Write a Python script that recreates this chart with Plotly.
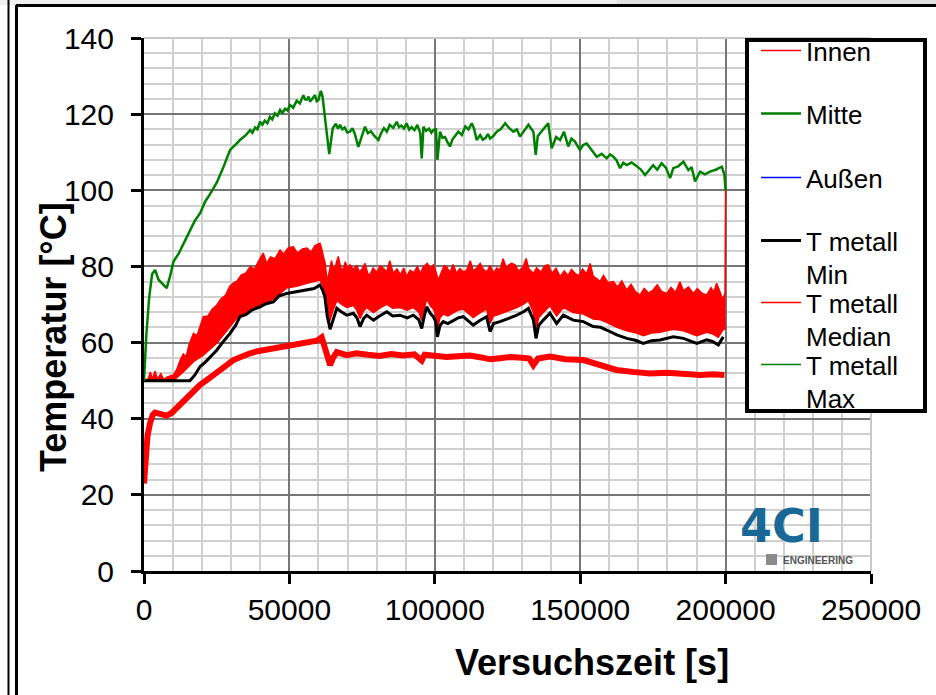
import plotly.graph_objects as go

# ---- measured series (time in s, temperature in °C) ----
innen_t = [0, 500, 1200, 2100, 3000, 3800, 5500, 7800, 9500, 11500, 13500, 16500, 19300, 22000,
           25000, 28000, 30700, 33500, 36500, 39500, 42200, 45000, 47900, 50800, 53600, 56500,
           59400, 61100, 62200, 63400, 64000, 65000, 66300, 69700, 73000, 77000, 81000, 85000,
           89000, 93000, 95500, 96500, 100000, 104000, 108000, 112000, 116000, 119000, 122400,
           126000, 130000, 132500, 133900, 135500, 139600, 145000, 151100, 155000, 158500,
           162500, 168000, 174000, 180000, 186000, 191200, 195500, 199600]
innen_v = [23, 30, 35.5, 38.9, 41, 41.6, 41.2, 40.8, 41.5, 43, 44.9, 47, 48.9, 50.4,
           51.9, 53.8, 55.4, 56.4, 57.2, 57.8, 58.2, 58.6, 58.9, 59.4, 59.8, 60.1,
           60.5, 61.4, 58.9, 55.9, 54.1, 56, 57.5, 56.7, 57.2, 56.8, 56.5, 57,
           56.6, 56.9, 55.3, 56.8, 56.5, 56.2, 56.4, 56.6, 56.1, 55.6, 55.9,
           56.2, 56, 55.8, 54.1, 55.8, 56.3, 55.6, 55.4, 54.6, 53.6,
           52.8, 52.3, 51.9, 52.1, 51.6, 51.5, 51.7, 51.5]

mitte_t = [0, 800, 1800, 2800, 3800, 5000, 6300, 7800, 9000, 10100, 12000, 14000, 15800, 17500,
           19300, 21000, 22700, 25000, 27000, 29600, 31500, 33000, 35000, 36500, 37300, 38200,
           39000, 39900, 40700, 41500, 42400, 43300, 44100, 45000, 45900, 46800, 47600, 48500,
           49300, 50200, 51300, 52500, 53600, 54800, 55400, 56000, 56600, 57100, 58000, 58800,
           59400, 60000, 60800, 61400, 62200, 63000, 63700, 64900, 66000, 66700, 67400, 68200,
           69000, 69900, 70800, 71700, 72500, 73700, 75000, 76000, 77000, 78000, 79300, 80600,
           81500, 82500, 83500, 84500, 85700, 86900, 87700, 88500, 89400, 90300, 91200, 92000,
           93000, 94000, 95000, 95500, 96100, 97000, 98000, 98800, 99500, 100400, 100900,
           101800, 102600, 103500, 104400, 105200, 106100, 107000, 108100, 109300, 110500,
           111600, 112700, 113500, 114400, 115600, 116500, 117500, 118300, 119000, 120200,
           121300, 122700, 124200, 125600, 127000, 128200, 129300, 130700, 132200, 133100,
           133900, 134700, 135400, 136200, 137600, 139000, 140200, 141700, 143100, 144400,
           145900, 147000, 148200, 149000, 149900, 151000, 152200, 154000, 155700, 157400,
           159100, 160300, 161400, 162500, 163700, 164800, 166000, 167700, 169400, 170800,
           172300, 173700, 175100, 176500, 178000, 179500, 180900, 182000, 183700, 185500,
           187200, 188300, 189500, 191200, 192900, 194600, 196600, 198700, 199600, 200000]
mitte_v = [50, 62, 72, 78, 79.1, 76.5, 75.5, 74.3, 77.5, 81.2, 83.5, 86.5, 89.6, 92,
           94, 97, 99, 102, 105.5, 110.6, 112, 113.2, 114.5, 115.8, 115.1, 116.5,
           116.0, 118, 117.2, 118.3, 117.6, 119.3, 118.6, 120.2, 119.6, 121.1, 120.3, 121.4,
           121.0, 122.4, 121.7, 123.5, 122.8, 125, 123.9, 123.8, 124.6, 123.3, 124.2, 125,
           123.4, 123.7, 126.1, 124.6, 119.3, 113, 109.5, 116.3, 117.5, 116.2, 117.2, 116.0,
           116.5, 115.2, 115.4, 116.3, 114.8, 111.4, 114.5, 116.7, 115.0, 115.5, 114.2, 113.2,
           115.0, 116.3, 115.4, 117.2, 116.4, 118, 116.6, 117, 116.2, 117.6, 115.9, 116.6,
           115.8, 117.2, 115, 108.4, 116.7, 115.6, 116.2, 115.1, 115.8, 116, 108,
           115.4, 113.8, 114, 112.6, 111.5, 113.4, 114.2, 115.4, 114.5, 116.8,
           116.0, 117.6, 116.2, 113.2, 114.5, 113.3, 113.8, 114.8, 113.6, 114.3,
           115.4, 116.1, 117.6, 116.3, 115.4, 116.0, 114.1, 115.6, 117.2, 116.2,
           115.4, 109.3, 114.2, 115, 116.3, 117.6, 111, 114.0, 113.2, 115.4,
           111.5, 113.6, 112.8, 111.7, 110.6, 111.9, 112.3, 110.5, 108.8, 109.6,
           108.4, 109.4, 108.8, 107.9, 105.8, 107.2, 106.6, 107.3, 106.2, 105.5,
           104, 105.3, 106.6, 105.4, 107.1, 105.9, 103.2, 105.8, 106.3, 107.5,
           105.3, 106.1, 102.3, 104.9, 104.2, 104.9, 105.4, 106.2, 104, 100]

tmin_t = [0, 15800, 17500, 19300, 21000, 23000, 25000, 27500, 29600, 31500, 33000, 35000, 37000,
          39900, 42000, 44500, 46500, 49000, 51500, 54000, 56000, 58500, 60500, 61400, 62200,
          63000, 64000, 65000, 66300, 68000, 69700, 72000, 73200, 74300, 75500, 76600, 78900,
          81000, 83500, 85500, 88000, 90500, 92600, 94500, 95500, 96400, 97200, 98500, 99500,
          100300, 100900, 101800, 102900, 104500, 106400, 108000, 109800, 111500, 113200,
          115500, 117800, 119000, 120200, 122400, 125000, 128200, 130500, 132200, 133300,
          133900, 134800, 135700, 137300, 139600, 141900, 144200, 147600, 151100, 154500,
          157000, 159100, 162600, 166000, 169000, 171700, 174500, 177500, 180000, 182000,
          185500, 188000, 190100, 193500, 195500, 197500, 199200]
tmin_v = [50, 50, 51.5, 53.7, 54.8, 56.5, 58, 60.5, 62.4, 64.5, 66.8, 67.3, 68.5,
          69.4, 70.2, 70.7, 72.3, 72.9, 73.2, 73.6, 73.8, 74.2, 75.1, 73.8, 72,
          67, 63.5, 66, 69, 68, 67.2, 67.7, 66.5, 64.2, 66.3, 67.2, 65.9,
          67, 68.1, 67, 67.2, 66.5, 67.2, 66, 63.7, 67, 69.4, 67.6, 66.8,
          65.5, 61.5, 64.5, 65.5, 65, 65.9, 66.5, 66.8, 65.8, 64.6,
          65.8, 66.8, 62.9, 65, 65.5, 66.2, 67.2, 68.1, 69, 67,
          65.9, 61.1, 64.5, 65.9, 67.7, 65, 67.2, 65.9, 65.5, 64.2,
          64, 63.3, 62, 61.1, 60.6, 59.8, 60.5, 60.7, 61.2, 61.5,
          61.1, 60.5, 59.8, 60.7, 60.3, 59.4, 61.5]

# median: lower and upper envelope of the scatter band
med_lo_t = [0, 10100, 13500, 17000, 20400, 25000, 29600, 32500, 35300, 38000, 41000, 44500,
            49000, 52500, 56000, 60500, 61500, 62300, 63000, 63800, 65000, 66300, 68000, 69700,
            72000, 73200, 74300, 75500, 76600, 78900, 81000, 83500, 85500, 88000, 90500, 92600,
            94500, 95500, 96400, 97200, 98500, 99500, 100300, 100900, 101800, 102900, 104500,
            106400, 108000, 109800, 111500, 113200, 115500, 117800, 119000, 120200, 122400,
            125000, 128200, 130500, 132200, 133300, 133900, 134800, 135700, 137300, 139600,
            141900, 144200, 147600, 151100, 154500, 157000, 159100, 162600, 166000, 169000,
            171700, 174500, 177500, 180000, 182000, 185500, 188000, 190100, 193500, 195500,
            197500, 199200, 200000]
med_lo_v = [50, 50, 52.3, 55, 56.7, 59.8, 64.2, 67, 67.7, 69, 69.9, 71.5,
            74.3, 74.8, 75.6, 76.4, 75, 73, 69, 65.5, 68.5, 71, 70, 69.2,
            69.7, 68.5, 66.3, 68.3, 69.2, 67.9, 69, 70.1, 69, 69.2, 68.5, 69.2,
            68, 65.8, 69, 71.4, 69.6, 68.8, 67.5, 63.6, 66.5, 67.5, 67,
            67.9, 68.5, 68.8, 67.8, 66.6, 67.8, 68.8, 65, 67, 67.5,
            68.2, 69.2, 70.1, 71, 69, 67.9, 63.2, 66.5, 67.9, 69.7,
            67, 69.2, 67.9, 67.5, 66.2, 66, 65.3, 64, 63.1, 62.6,
            61.8, 62.5, 62.7, 63.2, 63.5, 63.1, 62.5, 61.8, 62.7, 62.3,
            61.4, 63.5, 63.5]
med_hi_t = [0, 1500, 2200, 2800, 3800, 4600, 5800, 6800, 8000, 10100, 11200, 12500, 13500, 14500,
            15500, 17000, 18200, 19300, 20400, 22000, 23500, 25000, 26500, 28000, 29500, 30700,
            32000, 33500, 35000, 36500, 38000, 39500, 41000, 42200, 43500, 45000, 46800, 48000,
            49500, 51300, 52800, 54500, 56000, 57500, 58800, 60500, 61000, 61700, 62300, 63000,
            63800, 64500, 65100, 66000, 66800, 67600, 68500, 69200, 70000, 70800, 72000, 73200,
            74000, 74800, 76000, 77000, 77700, 78800, 80000, 81200, 82300, 83500, 84500, 85700,
            87000, 88200, 89300, 90300, 91500, 92800, 94000, 95000, 96100, 97400, 98500, 99500,
            100300, 101200, 102300, 103200, 104100, 105200, 106300, 107500, 108600, 110000,
            111000, 112200, 113200, 114400, 115600, 116700, 117900, 119000, 120200, 121300,
            122400, 123500, 124600, 125500, 126400, 127600, 128800, 130400, 131400, 132300,
            133900, 135000, 136500, 137800, 139000, 140300, 141700, 143100, 144500, 145800,
            147000, 148200, 149500, 150800, 152200, 153400, 154500, 155700, 156800, 158000,
            159500, 161400, 162800, 164300, 166000, 167500, 169000, 170600, 172000, 173500,
            175100, 176500, 178000, 179800, 181200, 182800, 184300, 185500, 187200, 188900,
            190300, 191800, 193500, 195000, 196000, 196900, 198000, 199000, 199800, 200000]
med_hi_v = [50, 50.5, 52.3, 50.3, 52.5, 50.4, 51.8, 50.3, 51, 51.5, 52.8, 55.5, 57, 56.2,
            59.5, 62.4, 61.8, 64.2, 66.8, 67, 68.8, 69.8, 71.5, 72.4, 74.8, 75.6,
            76.2, 77.8, 78.2, 79.9, 79.3, 81.5, 83.5, 80.8, 82.5, 82, 84.3, 83.2,
            84.8, 85.2, 83.5, 84.6, 84.8, 83.8, 85.5, 86.1, 85, 82.6, 80.8, 76,
            79.5, 81.5, 79, 80.5, 82.6, 79.8, 79, 81.2, 79.4, 80.4, 79.2, 80.3,
            78.6, 79.1, 80.8, 78, 77.8, 79.6, 78.4, 80.2, 79.5, 78.6, 81.5, 78.2,
            79.3, 77.8, 79.6, 77.3, 79, 78.4, 80, 78.2, 79.9, 80.8, 79.5, 80.4,
            78.8, 76.4, 78.5, 80.2, 79.9, 78.4, 80.5, 78.2, 79.4, 78.5,
            79.1, 81.5, 78.8, 79.6, 80.8, 79.2, 78.6, 80.2, 78.3, 79.6,
            79.1, 82, 79.5, 80.4, 80.8, 80.4, 78.8, 79.9, 82.1, 79.4,
            78.2, 79.6, 78.5, 80.2, 80.4, 78.2, 79.5, 77.3, 78.8, 77.6,
            79.2, 78.2, 77.5, 79.3, 78, 80.8, 77.4, 76.8, 76, 77.6,
            75.8, 76, 74.6, 76.2, 73.8, 75.3, 73.4, 72.5, 74.2, 73,
            73.8, 75.2, 73.4, 72.9, 74.5, 73.2, 76, 73.6, 74.6, 72.9,
            74.2, 73, 72.5, 74.4, 73.2, 75.6, 73.5, 71.2, 73, 100]

x_ticks = [0, 50000, 100000, 150000, 200000, 250000]
y_ticks = [0, 20, 40, 60, 80, 100, 120, 140]

RED, GREEN, BLUE, BLACK = "#ff0000", "#008000", "#0000ff", "#000000"
FONT = "Liberation Sans, Arial, sans-serif"

# plot area in pixels
L, R, T, B = 144, 871, 38, 571
W, H = 936, 695


def px(x):
    return (x - L) / (R - L)


def py(y):
    return (B - y) / (B - T)


fig = go.Figure()

# Innen: thick curve, thin key line in the legend
fig.add_trace(go.Scatter(x=innen_t, y=innen_v, mode="lines", name="Innen",
                         line=dict(color=RED, width=6), legendgroup="innen",
                         showlegend=False))
fig.add_trace(go.Scatter(x=[None], y=[None], mode="lines", name="Innen",
                         line=dict(color=RED, width=1.5), legendgroup="innen",
                         legend="legend"))
fig.add_trace(go.Scatter(x=med_lo_t, y=med_lo_v, mode="lines", name="T metall<br>Median",
                         line=dict(color=RED, width=1.5), legend="legend5",
                         legendgroup="median"))
fig.add_trace(go.Scatter(x=med_hi_t, y=med_hi_v, mode="lines", name="T metall Median",
                         line=dict(color=RED, width=1.5), fill="tonexty", fillcolor=RED,
                         showlegend=False, legendgroup="median"))
fig.add_trace(go.Scatter(x=tmin_t, y=tmin_v, mode="lines", name="T metall<br>Min",
                         line=dict(color=BLACK, width=3), legend="legend4"))
fig.add_trace(go.Scatter(x=[None], y=[None], mode="lines", name="Außen",
                         line=dict(color=BLUE, width=1.5), legend="legend3"))
fig.add_trace(go.Scatter(x=[None], y=[None], mode="lines", name="T metall<br>Max",
                         line=dict(color=GREEN, width=1.5), legend="legend6"))
fig.add_trace(go.Scatter(x=mitte_t, y=mitte_v, mode="lines", name="Mitte",
                         line=dict(color=GREEN, width=2.5), legend="legend2"))

# one legend per entry so every row sits at its own height
leg_rows = [53, 116, 180, 243, 305, 367]
leg_common = dict(font=dict(family=FONT, size=26, color="black"), bgcolor="rgba(0,0,0,0)",
                  borderwidth=0, xanchor="left", yanchor="top", valign="top",
                  itemwidth=40, tracegroupgap=0, visible=True)
legends = {}
for i, yrow in enumerate(leg_rows):
    key = "legend" if i == 0 else f"legend{i + 1}"
    legends[key] = dict(x=px(756), y=py(yrow - 26), **leg_common)

axis_common = dict(showline=True, linecolor="black", linewidth=3, mirror=False,
                   ticks="outside", ticklen=10, tickwidth=3, tickcolor="black",
                   tickfont=dict(family=FONT, size=30, color="black"),
                   showgrid=True, gridcolor="#767676", gridwidth=1.5, zeroline=False)

shapes = [
    # page frame
    dict(type="rect", xref="paper", yref="paper", x0=px(0), x1=px(617), y0=py(0), y1=py(5),
         fillcolor="#f0f0f0", line=dict(width=0), layer="below"),
    dict(type="rect", xref="paper", yref="paper", x0=px(617), x1=px(W), y0=py(0), y1=py(5),
         fillcolor="#e0e0e0", line=dict(width=0), layer="below"),
    dict(type="line", xref="paper", yref="paper", x0=px(16), x1=px(W), y0=py(5.5), y1=py(5.5),
         line=dict(color="black", width=3)),
    dict(type="line", xref="paper", yref="paper", x0=px(8.5), x1=px(8.5), y0=py(0), y1=py(H),
         line=dict(color="black", width=2)),
    dict(type="line", xref="paper", yref="paper", x0=px(16.5), x1=px(16.5), y0=py(5), y1=py(H),
         line=dict(color="black", width=3)),
    # light plot-area border on top/right
    dict(type="line", xref="paper", yref="paper", x0=0, x1=1, y0=1, y1=1,
         line=dict(color="#c8c8c8", width=2)),
    dict(type="line", xref="paper", yref="paper", x0=1, x1=1, y0=0, y1=1,
         line=dict(color="#c8c8c8", width=2)),
    # legend frame
    dict(type="rect", xref="paper", yref="paper", x0=px(747), x1=px(925), y0=py(411), y1=py(40),
         fillcolor="white", line=dict(color="black", width=4), layer="above"),
    # logo mark
    dict(type="rect", xref="paper", yref="paper", x0=px(766), x1=px(777), y0=py(565), y1=py(554),
         fillcolor="#8a8a8a", line=dict(width=0)),
]

annotations = [
    dict(text="<b>Versuchszeit [s]</b>", xref="paper", yref="paper", x=px(592), y=py(662),
         xanchor="center", yanchor="middle", showarrow=False,
         font=dict(family=FONT, size=36, color="black")),
    dict(text="<b>Temperatur [°C]</b>", xref="paper", yref="paper", x=px(53), y=py(337),
         xanchor="center", yanchor="middle", showarrow=False, textangle=-90,
         font=dict(family=FONT, size=36, color="black")),
    dict(text="<b>4CI</b>", xref="paper", yref="paper", x=px(781), y=py(526),
         xanchor="center", yanchor="middle", showarrow=False,
         font=dict(family="DejaVu Sans, sans-serif", size=46, color="#1a6896")),
    dict(text="<b>ENGINEERING</b>", xref="paper", yref="paper", x=px(781), y=py(560),
         xanchor="left", yanchor="middle", showarrow=False,
         font=dict(family=FONT, size=10, color="#555555")),
]

fig.update_layout(
    width=W, height=H,
    margin=dict(l=L, r=W - R, t=T, b=H - B, autoexpand=False),
    paper_bgcolor="white", plot_bgcolor="white",
    showlegend=True,
    font=dict(family=FONT, color="black"),
    xaxis=dict(range=[0, 250000], tickvals=x_ticks, ticktext=[str(v) for v in x_ticks],
               minor=dict(dtick=10000, showgrid=True, gridcolor="#d0d0d0", gridwidth=1.5),
               ticklabelstandoff=0, **axis_common),
    yaxis=dict(range=[0, 140], tickvals=y_ticks, ticktext=[str(v) for v in y_ticks],
               minor=dict(dtick=4, showgrid=True, gridcolor="#d0d0d0", gridwidth=1.5),
               ticklabelstandoff=11, **axis_common),
    shapes=shapes,
    annotations=annotations,
    **legends,
)

fig.write_html("out.html")
